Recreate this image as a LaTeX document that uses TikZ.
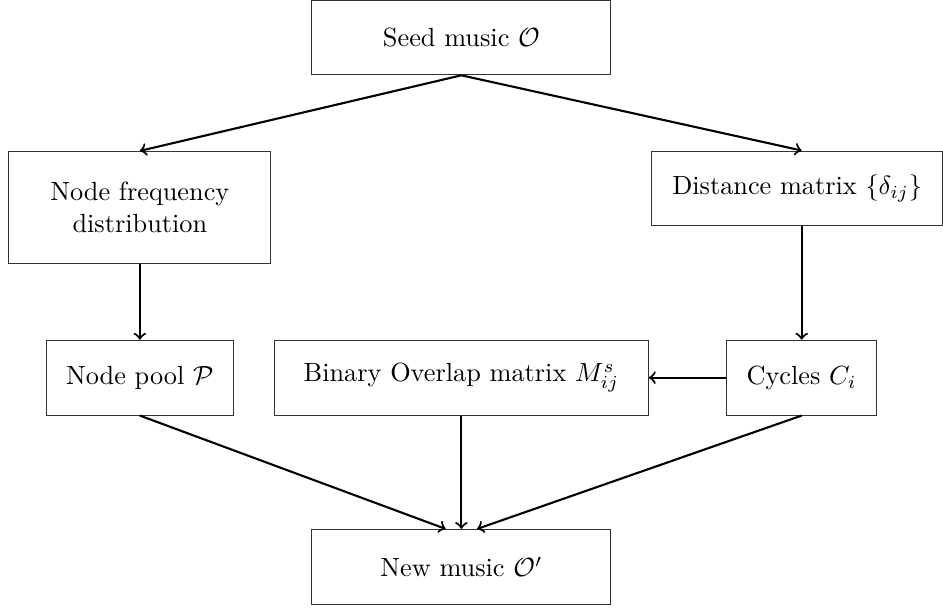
\documentclass[tikz,border=0pt]{standalone}
\usepackage{tikz}
\usetikzlibrary{arrows,calc,positioning}
\def\rowsep{1.0cm}

\begin{document}
\begin{tikzpicture}[->, thick]
            \tikzstyle{block}=[rectangle, draw=black!80, thin, minimum height=\rowsep, inner sep=2pt, align=center]
            \tikzstyle{flow}=[->, thick]

            \useasboundingbox (0,0) rectangle (12.61,-8.14);

            % Top row: the seed piece
            \node[block, minimum width=4cm] (seed) at (6.17,-0.5) {Seed music $\mathcal{O}$};

            % Second row: frequency and distances
            \node[block, minimum width=3.5cm, minimum height=1.5cm] (freq) at (1.87,-2.775) {Node frequency\\distribution};
            \node[block, minimum width=3.9cm] (dist) at (10.66,-2.52) {Distance matrix $\{\delta_{ij}\}$};

            % Third row
            \node[block, minimum width=2.5cm] (pool) at (1.87,-5.05) {Node pool $\mathcal{P}$};
            \node[block, minimum width=5cm] (overlap) at (6.17,-5.05) {Binary Overlap matrix $M^s_{ij}$};
            \node[block, minimum width=2cm] (cycles) at (10.72,-5.05) {Cycles $C_i$};

            % Output
            \node[block, minimum width=4cm] (new) at (6.17,-7.58) {New music $\mathcal{O}'$};

            % Connect the seed with the second row
            \draw[flow] (seed.south) -- (freq.north);
            \draw[flow] (seed.south) -- (dist.north -| cycles.north);

            % Second row down to the third row
            \draw[flow] (freq.south) -- (pool.north);
            \draw[flow] (dist.south -| cycles.north) -- (cycles.north);
            \draw[flow] (cycles.west) -- (overlap.east);

            % Everything into the new piece
            \draw[flow] (pool.south) -- ($(new.north)+(-0.21,0)$);
            \draw[flow] (overlap.south) -- (new.north);
            \draw[flow] (cycles.south) -- ($(new.north)+(0.21,0)$);

\end{tikzpicture}
\end{document}
